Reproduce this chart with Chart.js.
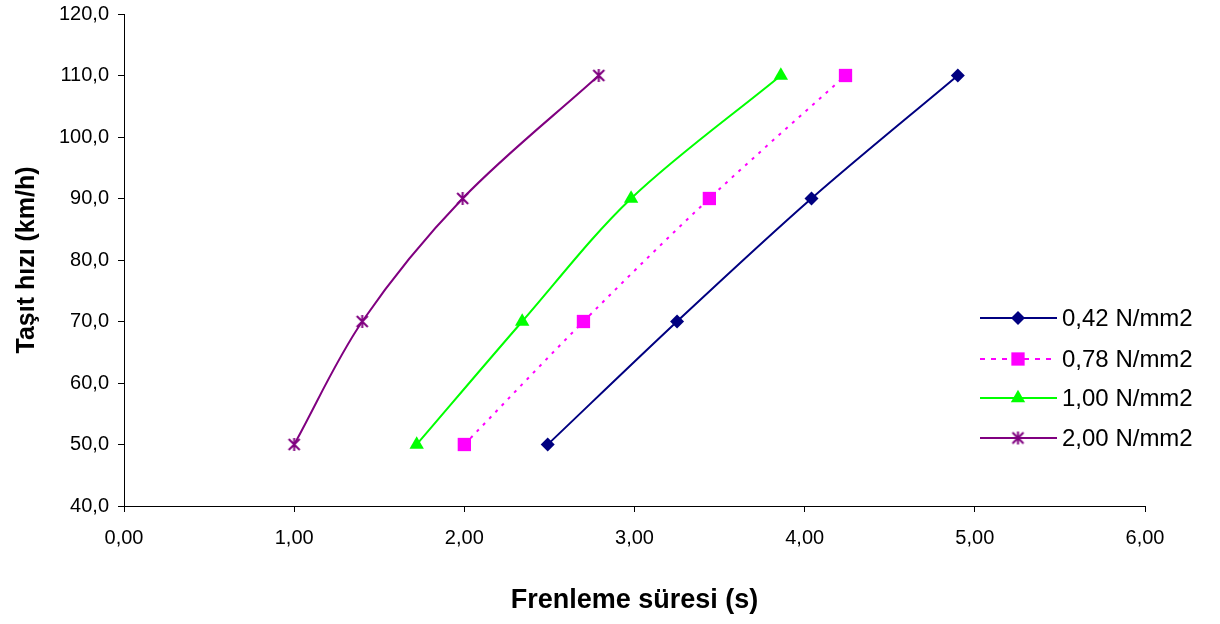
<!DOCTYPE html>
<html>
<head>
<meta charset="utf-8">
<script src="https://cdn.jsdelivr.net/npm/chart.js@4/dist/chart.umd.min.js"></script>
<style>
  html, body { margin: 0; padding: 0; background: #fff; }
  #wrap { width: 1220px; height: 624px; }
</style>
</head>
<body>
<div id="wrap"><canvas id="brakeChart" width="1220" height="624"></canvas></div>
<script>
// braking time (s) per vehicle speed (km/h), one series per brake pressure
const speeds = [50, 70, 90, 110];
const t042 = [2.49, 3.25, 4.04, 4.90];
const t078 = [2.00, 2.70, 3.44, 4.24];
const t100 = [1.72, 2.34, 2.98, 3.86];
const t200 = [1.00, 1.40, 1.99, 2.79];
const seriesNames = ['0,42 N/mm2', '0,78 N/mm2', '1,00 N/mm2', '2,00 N/mm2'];

const fontFamily = '"Liberation Sans", Arial, sans-serif';

// excel style star: an X with a vertical bar through it
function makeStar(color) {
  const c = document.createElement('canvas');
  c.width = 15; c.height = 15;
  const g = c.getContext('2d');
  g.strokeStyle = color;
  g.lineWidth = 2;
  g.beginPath();
  g.moveTo(2, 2); g.lineTo(13, 13);
  g.moveTo(13, 2); g.lineTo(2, 13);
  g.moveTo(7.5, 1); g.lineTo(7.5, 14);
  g.stroke();
  return c;
}
const starImg = makeStar('#800080');

function toPoints(xs) {
  return xs.map((x, i) => ({x: x, y: speeds[i]}));
}

const datasets = [
  {label: seriesNames[0], data: toPoints(t042), borderColor: '#000080', backgroundColor: '#000080',
   pointStyle: 'rectRot', pointRadius: 7, borderDash: []},
  {label: seriesNames[1], data: toPoints(t078), borderColor: '#ff00ff', backgroundColor: '#ff00ff',
   pointStyle: 'rect', pointRadius: 9.4, borderDash: [3, 6]},
  {label: seriesNames[2], data: toPoints(t100), borderColor: '#00ff00', backgroundColor: '#00ff00',
   pointStyle: 'triangle', pointRadius: 8.3, borderDash: []},
  {label: seriesNames[3], data: toPoints(t200), borderColor: '#800080', backgroundColor: '#800080',
   pointStyle: starImg, pointRadius: 7, borderDash: []}
];
datasets.forEach(ds => {
  ds.showLine = true;
  ds.borderWidth = 2;
  ds.tension = 0.33;
  ds.pointBorderWidth = 0;
  ds.pointHoverRadius = ds.pointRadius;
});

// legend drawn by hand: line sample with marker in the middle, then text
const sideLegend = {
  id: 'sideLegend',
  afterDraw(chart) {
    const ctx = chart.ctx;
    const rows = [318, 359, 398, 438];
    ctx.save();
    chart.data.datasets.forEach((ds, i) => {
      const y = rows[i];
      ctx.strokeStyle = ds.borderColor;
      ctx.lineWidth = 2;
      ctx.setLineDash(i === 1 ? [5, 6] : []);
      ctx.beginPath();
      ctx.moveTo(980, y);
      ctx.lineTo(1057, y);
      ctx.stroke();
      ctx.setLineDash([]);
      ctx.fillStyle = ds.backgroundColor;
      Chart.helpers.drawPoint(ctx, {pointStyle: ds.pointStyle, radius: ds.pointRadius, borderWidth: 0, rotation: 0}, 1018, y);
      ctx.fillStyle = '#000';
      ctx.font = '24px ' + fontFamily;
      ctx.textAlign = 'left';
      ctx.textBaseline = 'middle';
      ctx.fillText(ds.label, 1062, y + 1);
    });
    ctx.restore();
  }
};

new Chart(document.getElementById('brakeChart'), {
  type: 'scatter',
  data: {datasets: datasets},
  plugins: [sideLegend],
  options: {
    responsive: false,
    animation: false,
    events: [],
    layout: {padding: {left: 0, right: 75, top: 14, bottom: 0}},
    plugins: {
      legend: {display: false},
      tooltip: {enabled: false}
    },
    scales: {
      x: {
        type: 'linear',
        min: 0,
        max: 6,
        afterFit: (scale) => { scale.height = 118; },
        border: {display: true, color: '#000', width: 1},
        grid: {drawOnChartArea: false, color: '#000', tickLength: 6},
        ticks: {
          stepSize: 1,
          padding: 14,
          color: '#000',
          font: {family: fontFamily, size: 20},
          callback: (v) => v.toFixed(2).replace('.', ',')
        },
        title: {
          display: true,
          text: 'Frenleme süresi (s)',
          color: '#000',
          font: {family: fontFamily, size: 27, weight: 'bold'},
          padding: {top: 7, bottom: 7}
        }
      },
      y: {
        type: 'linear',
        min: 40,
        max: 120,
        afterFit: (scale) => {
          scale.width = 124;
          scale.paddingTop = 0;
          scale.paddingBottom = 0;
        },
        border: {display: true, color: '#000', width: 1},
        grid: {drawOnChartArea: false, color: '#000', tickLength: 6},
        ticks: {
          stepSize: 10,
          padding: 9,
          color: '#000',
          font: {family: fontFamily, size: 20},
          callback: (v) => v.toFixed(1).replace('.', ',')
        },
        title: {
          display: true,
          text: 'Taşıt hızı (km/h)',
          color: '#000',
          font: {family: fontFamily, size: 25, weight: 'bold'},
          padding: {top: 12, bottom: 12}
        }
      }
    }
  }
});
</script>
</body>
</html>
